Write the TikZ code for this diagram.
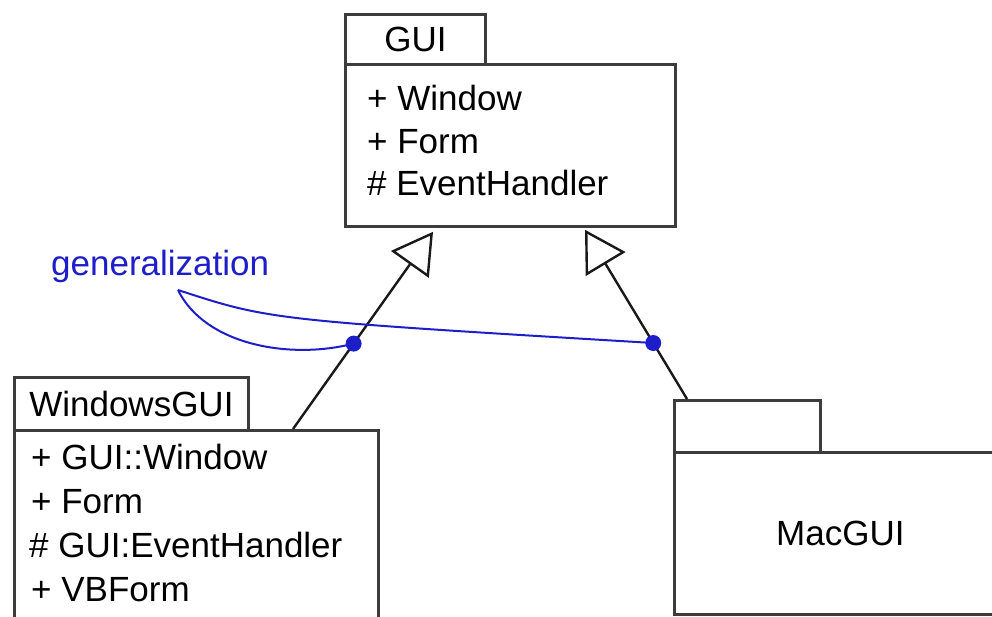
\documentclass[tikz,border=0pt]{standalone}
\usepackage{fontspec}
\setmainfont{Liberation Sans}
\usepackage{tikz}
\usetikzlibrary{arrows.meta, calc}
\definecolor{genblue}{HTML}{1E1EC8}
\definecolor{boxgray}{HTML}{3C3C3C}
\tikzset{
  umlfont/.style={font=\fontsize{35pt}{43pt}\selectfont},
  pkgtab/.style={draw=boxgray,line width=2.8pt,fill=white,inner sep=0pt,anchor=north west,umlfont},
  pkgbody/.style={pkgtab},
  memtext/.style={inner sep=0pt,anchor=base west,umlfont},
  genedge/.style={-{Triangle[open,length=40pt,width=46pt]},line width=2.4pt,black!90},
  gendot/.style={circle,fill=genblue,inner sep=0pt,minimum size=16pt},
  genline/.style={genblue,line width=2pt},
}
\begin{document}
\begin{tikzpicture}[x=1pt,y=-1pt]
  \useasboundingbox (0,0) rectangle (992,616);
  \clip (0,0) rectangle (992,616);
  % GUI package
  \node[pkgtab,minimum width=140pt,minimum height=50pt] (guiTab) at (344,13) {GUI};
  \node[pkgbody,minimum width=330pt,minimum height=162pt] (guiBody) at (344,63) {};
  \node[memtext] (guiM1) at (367,110) {+ Window};
  \node[memtext] (guiM2) at (367,153) {+ Form};
  \node[memtext] (guiM3) at (367,195) {\# EventHandler};
  % WindowsGUI package
  \node[pkgtab,minimum width=234pt,minimum height=53pt] (winTab) at (13,376) {WindowsGUI};
  \node[pkgbody,minimum width=364pt,minimum height=230pt] (winBody) at (13,429) {};
  \node[memtext] (winM1) at (31,469) {+ GUI::Window};
  \node[memtext] (winM2) at (31,513) {+ Form};
  \node[memtext] (winM3) at (29,557) {\# GUI:EventHandler};
  \node[memtext] (winM4) at (31,601) {+ VBForm};
  % MacGUI package
  \node[pkgtab,minimum width=146pt,minimum height=52pt] (macTab) at (673,399) {};
  \node[pkgbody,minimum width=332pt,minimum height=162pt] (macBody) at (673,451) {MacGUI};
  % generalizations
  \draw[genedge] ($(winBody.north west)+(280,0)$) -- node[gendot,pos=0.433] (dotL) {} ($(guiBody.south west)+(89,4)$);
  \draw[genedge] ($(macTab.north west)+(14,0)$) -- node[gendot,pos=0.331] (dotR) {} ($(guiBody.south west)+(241,2)$);
  % callout
  \node[memtext,text=genblue] (genLabel) at (51,275) {generalization};
  \coordinate (genTip) at (178,290);
  \draw[genline] (genTip) .. controls (270,320) .. (dotR.center);
  \draw[genline] (genTip) .. controls (205,345) and (290,360) .. (dotL.center);
\end{tikzpicture}
\end{document}
